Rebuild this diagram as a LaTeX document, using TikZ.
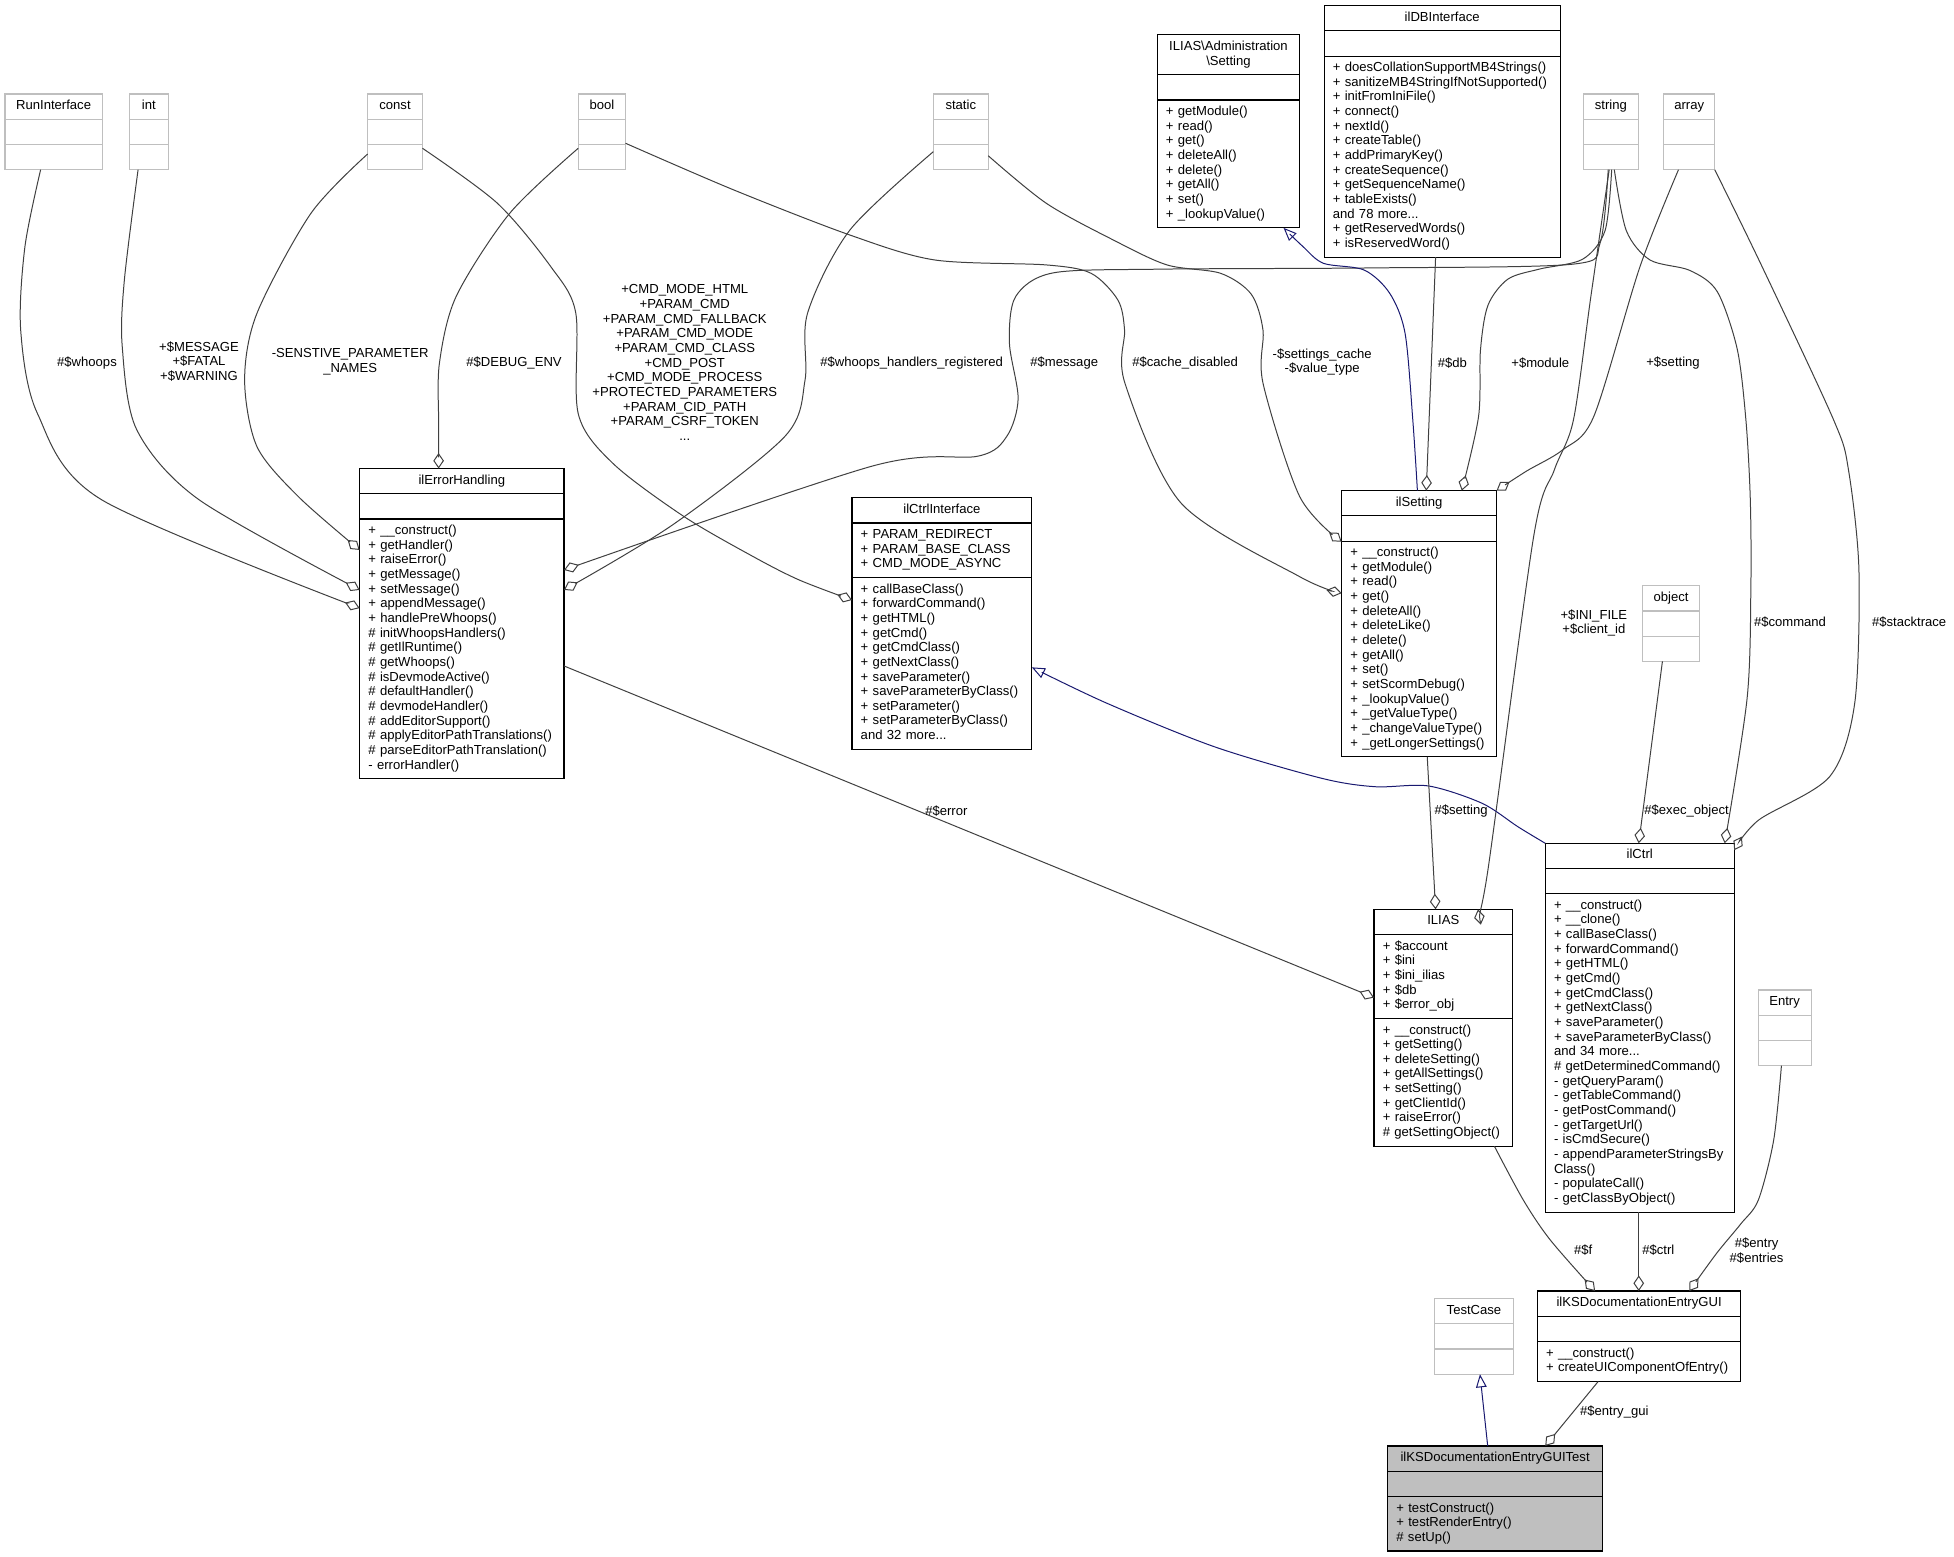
\documentclass[tikz,border=0pt]{standalone}
\usepackage{fontspec}
\setmainfont{Liberation Sans}
\usetikzlibrary{arrows.meta,calc,fit}
\definecolor{grayb}{HTML}{BFBFBF}
\definecolor{edgec}{HTML}{404040}
\definecolor{inhc}{HTML}{191970}
\newcommand\dxfont{\fontsize{10.5}{11.76}\selectfont}
\newcommand\umlclass[8]{%
  \pgfmathsetmacro\clsw{#4-14}%
  \node[#5,tpart,minimum width=#4pt,text width=\clsw pt] (#1-t) at (#2,#3) {\strut #6\strut};%
  \node[#5,mpart,minimum width=#4pt,text width=\clsw pt] (#1-a) at (#1-t.south west) {\strut #7\strut};%
  \node[#5,mpart,minimum width=#4pt,text width=\clsw pt] (#1-m) at (#1-a.south west) {\strut #8\strut};%
  \node[fit=(#1-t)(#1-m),inner sep=0pt,outer sep=0pt] (#1) {};%
}
\begin{document}
\begin{tikzpicture}[x=1pt,y=-1pt,
  cls/.style={draw=black,line width=0.9pt,rectangle,outer sep=0pt,inner xsep=7pt,inner ysep=4.25pt,font=\dxfont,anchor=north west},
  gcls/.style={cls,draw=grayb},
  fcls/.style={cls,fill=grayb},
  tpart/.style={align=center},
  mpart/.style={align=left},
  lbl/.style={font=\dxfont,align=center,inner sep=0pt,text=black},
  agg/.style={draw=edgec,line width=0.8pt,-{Diamond[open,length=12.5pt,width=8.5pt]}},
  inh/.style={draw=inhc,line width=0.8pt,-{Triangle[open,length=10.5pt,width=8.5pt]}}]
\fill[white] (0,0) rectangle (1568,1249);
\useasboundingbox (0,0) rectangle (1568,1249);

% ---------- classes ----------
\umlclass{run}{4}{75.4}{78}{gcls}{RunInterface}{}{}
\umlclass{int}{103.8}{75.4}{31.2}{gcls}{int}{}{}
\umlclass{const}{295}{75.4}{44}{gcls}{const}{}{}
\umlclass{bool}{464}{75.4}{38}{gcls}{bool}{}{}
\umlclass{static}{749}{75.4}{44}{gcls}{static}{}{}
\umlclass{string}{1270.8}{75.4}{43.8}{gcls}{string}{}{}
\umlclass{array}{1335}{75.4}{41}{gcls}{array}{}{}
\umlclass{admin}{928.6}{28}{114.4}{cls}{ILIAS\textbackslash Administration\\\textbackslash Setting}{}{+ getModule()\\+ read()\\+ get()\\+ deleteAll()\\+ delete()\\+ getAll()\\+ set()\\+ \_lookupValue()}
\umlclass{db}{1062.5}{4.5}{189.5}{cls}{ilDBInterface}{}{+ doesCollationSupportMB4Strings()\\+ sanitizeMB4StringIfNotSupported()\\+ initFromIniFile()\\+ connect()\\+ nextId()\\+ createTable()\\+ addPrimaryKey()\\+ createSequence()\\+ getSequenceName()\\+ tableExists()\\and 78 more...\\+ getReservedWords()\\+ isReservedWord()}
\umlclass{errh}{288.6}{376}{164}{cls}{ilErrorHandling}{}{+ \_\_construct()\\+ getHandler()\\+ raiseError()\\+ getMessage()\\+ setMessage()\\+ appendMessage()\\+ handlePreWhoops()\\\# initWhoopsHandlers()\\\# getIlRuntime()\\\# getWhoops()\\\# isDevmodeActive()\\\# defaultHandler()\\\# devmodeHandler()\\\# addEditorSupport()\\\# applyEditorPathTranslations()\\\# parseEditorPathTranslation()\\- errorHandler()}
\umlclass{ctrli}{683.7}{399.4}{144.3}{cls}{ilCtrlInterface}{+ PARAM\_REDIRECT\\+ PARAM\_BASE\_CLASS\\+ CMD\_MODE\_ASYNC}{+ callBaseClass()\\+ forwardCommand()\\+ getHTML()\\+ getCmd()\\+ getCmdClass()\\+ getNextClass()\\+ saveParameter()\\+ saveParameterByClass()\\+ setParameter()\\+ setParameterByClass()\\and 32 more...}
\umlclass{sett}{1076.6}{393.7}{124.3}{cls}{ilSetting}{}{+ \_\_construct()\\+ getModule()\\+ read()\\+ get()\\+ deleteAll()\\+ deleteLike()\\+ delete()\\+ getAll()\\+ set()\\+ setScormDebug()\\+ \_lookupValue()\\+ \_getValueType()\\+ \_changeValueType()\\+ \_getLongerSettings()}
\umlclass{object}{1318}{470}{46}{gcls}{object}{}{}
\umlclass{ctrl}{1240}{676.7}{151.6}{cls}{ilCtrl}{}{+ \_\_construct()\\+ \_\_clone()\\+ callBaseClass()\\+ forwardCommand()\\+ getHTML()\\+ getCmd()\\+ getCmdClass()\\+ getNextClass()\\+ saveParameter()\\+ saveParameterByClass()\\and 34 more...\\\# getDeterminedCommand()\\- getQueryParam()\\- getTableCommand()\\- getPostCommand()\\- getTargetUrl()\\- isCmdSecure()\\- appendParameterStringsBy\\Class()\\- populateCall()\\- getClassByObject()}
\umlclass{ilias}{1102.6}{729.7}{111.1}{cls}{ILIAS}{+ \$account\\+ \$ini\\+ \$ini\_ilias\\+ \$db\\+ \$error\_obj}{+ \_\_construct()\\+ getSetting()\\+ deleteSetting()\\+ getAllSettings()\\+ setSetting()\\+ getClientId()\\+ raiseError()\\\# getSettingObject()}
\umlclass{entry}{1410.8}{794.4}{42.5}{gcls}{Entry}{}{}
\umlclass{testcase}{1151.2}{1042}{63.2}{gcls}{TestCase}{}{}
\umlclass{gui}{1233.6}{1036}{163.4}{cls}{ilKSDocumentationEntryGUI}{}{+ \_\_construct()\\+ createUIComponentOfEntry()}
\umlclass{test}{1113.5}{1160.3}{172.5}{fcls}{ilKSDocumentationEntryGUITest}{}{+ testConstruct()\\+ testRenderEntry()\\\# setUp()}

% ---------- connector end points ----------
\coordinate (s1) at ($(run.south west)+(28.6,0)$);
\coordinate (e1) at ($(errh.north west)+(0,112)$);
\coordinate (s2) at ($(int.south west)+(7,0)$);
\coordinate (e2) at ($(errh.north west)+(0,97.4)$);
\coordinate (s3) at ($(const.south west)+(0,-12.6)$);
\coordinate (e3) at ($(errh.north west)+(0,65.3)$);
\coordinate (s4) at ($(const.south east)+(0,-17.2)$);
\coordinate (e4) at ($(ctrli.north west)+(0,82.1)$);
\coordinate (s5) at ($(bool.south west)+(0,-17.2)$);
\coordinate (e5) at ($(errh.north west)+(63.4,0)$);
\coordinate (s6) at ($(bool.south east)+(0,-21.2)$);
\coordinate (e6) at ($(sett.north west)+(0,82.3)$);
\coordinate (s7) at ($(static.south west)+(0,-14.5)$);
\coordinate (e7) at ($(errh.north east)+(0,97.4)$);
\coordinate (s8) at ($(static.south east)+(0,-11.2)$);
\coordinate (e8) at ($(sett.north west)+(0,41)$);
\coordinate (s9) at ($(string.south west)+(19.7,0)$);
\coordinate (e9) at ($(errh.north east)+(0,81.4)$);
\coordinate (s10) at ($(string.south west)+(22.5,0)$);
\coordinate (e10) at ($(sett.north west)+(96.4,0)$);
\coordinate (s11) at ($(string.south west)+(20.5,0)$);
\coordinate (e11) at ($(ilias.north west)+(83.4,0)$);
\coordinate (s12) at ($(string.south west)+(24.6,0)$);
\coordinate (e12) at ($(ctrl.north west)+(144,0)$);
\coordinate (s13) at ($(array.south west)+(11.9,0)$);
\coordinate (e13) at (sett.north east);
\coordinate (s14) at (array.south east);
\coordinate (e14) at ($(ctrl.north east)+(0,5.5)$);
\coordinate (s15) at ($(db.south west)+(89.5,0)$);
\coordinate (e15) at ($(sett.north west)+(67.9,0)$);
\coordinate (s16) at ($(sett.north west)+(60.8,0)$);
\coordinate (e16) at ($(admin.south west)+(101.4,0)$);
\coordinate (s17) at ($(errh.north east)+(0,158.4)$);
\coordinate (e17) at ($(ilias.north west)+(0,70.8)$);
\coordinate (s18) at (ctrl.north west);
\coordinate (e18) at ($(ctrli.north east)+(0,136.1)$);
\coordinate (s19) at ($(sett.south west)+(68.7,0)$);
\coordinate (e19) at ($(ilias.north west)+(49.4,0)$);
\coordinate (s20) at ($(object.south west)+(16,0)$);
\coordinate (e20) at ($(ctrl.north west)+(75,0)$);
\coordinate (s21) at ($(ilias.south west)+(96.6,0)$);
\coordinate (e21) at ($(gui.north west)+(46.4,0)$);
\coordinate (s22) at ($(ctrl.south west)+(75,0)$);
\coordinate (e22) at ($(gui.north west)+(81.4,0)$);
\coordinate (s23) at ($(entry.south west)+(18.7,0)$);
\coordinate (e23) at ($(gui.north west)+(122,0)$);
\coordinate (s24) at ($(test.north west)+(80.3,0)$);
\coordinate (e24) at ($(testcase.south west)+(36.4,0)$);
\coordinate (s25) at ($(gui.south west)+(48.9,0)$);
\coordinate (e25) at ($(test.north west)+(126.5,0)$);

% ---------- connectors ----------
\draw[agg] plot[smooth] coordinates {(s1) (20,198) (16.6,264.8) (30,331.7) (81.5,401) (e1)};
\draw[agg] plot[smooth] coordinates {(s2) (99.8,224.7) (98.1,278.2) (109.8,345) (159.7,401) (e2)};
\draw[agg] plot[smooth] coordinates {(s3) (249.5,171.2) (206.2,251.4) (196.3,305) (206.2,358.4) (239.5,398.6) (e3)};
\draw[agg] plot[smooth] coordinates {(s4) (399,163) (442,214) (462,251) (464,332) (492,372) (549,414.6) (604.5,446.7) (641.3,465.4) (e4)};
\draw[agg] plot[smooth] coordinates {(s5) (409,171.2) (366,238) (352.6,291.5) (352,340) (e5)};
\draw[agg] plot[smooth] coordinates {(s6) (589,152.5) (682,188.6) (750,208.6) (839.7,212.6) (875.5,219.3) (897,240.7) (902.4,264.8) (902.7,307.5) (948,404) (1043,462.8) (e6)};
\draw[agg] plot[smooth] coordinates {(s7) (682,184.6) (648,251.4) (646,305) (630,350) (540,421) (e7)};
\draw[agg] plot[smooth] coordinates {(s8) (839.7,163.2) (893.4,192.6) (936.5,212.6) (979.4,219.3) (1004,236) (1013.5,265) (1013.5,307.5) (1043,398.6) (e8)};
\draw[agg] plot[smooth] coordinates {(s9) (1284,195) (1262,212) (1100,215) (930,216) (845,219) (815,238) (810,275) (817,320) (808,350) (785,366) (700,374) (e9)};
\draw[agg] plot[smooth] coordinates {(s10) (1288,185) (1270,208) (1235,216) (1210,224) (1194,245) (1188,281) (1186.5,334) (e10)};
\draw[agg] plot[smooth] coordinates {(s11) (1276.3,240) (1262.6,337) (1247.3,377) (1230.6,431) (1194,698) (e11)};
\draw[agg] plot[smooth] coordinates {(s12) (1305,185) (1324,208.6) (1356,217) (1378,234) (1394,280) (1401,337) (1404.5,400) (1405,470) (1402,560) (e12)};
\draw[agg] plot[smooth] coordinates {(s13) (1316,214) (1279,334) (1254,361) (1225,378) (e13)};
\draw[agg] plot[smooth] coordinates {(s14) (1414,214) (1471.4,337) (1483.3,377) (1491.7,457.4) (1488.3,564.4) (1468.2,623.2) (1411.3,658) (e14)};
\draw[agg] (s15) -- (e15);
\draw[inh] plot[smooth] coordinates {(s16) (1133.7,337) (1127.5,267.5) (1115.2,235.4) (1094.7,216.7) (1062,211.3) (1045.6,197.9) (e16)};
\draw[agg] (s17) -- (e17);
\draw[inh] plot[smooth] coordinates {(s18) (1218,663.4) (1189.3,644.6) (1146.3,630.7) (1103.4,631.3) (1060.4,624.5) (974.4,599.2) (888.4,564.4) (e18)};
\draw[agg] (s19) -- (e19);
\draw[agg] (s20) -- (e20);
\draw[agg] plot[smooth] coordinates {(s21) (1222.4,963) (1244,995) (e21)};
\draw[agg] (s22) -- (e22);
\draw[agg] plot[smooth] coordinates {(s23) (1423.3,914.8) (1411,962.9) (1397,982) (1377.5,1005.7) (e23)};
\draw[inh] (s24) -- (e24);
\draw[agg] (s25) -- (e25);

% ---------- labels ----------
\node[lbl] (l1) at (69.8,291) {\#\$whoops};
\node[lbl] (l2) at (159.7,290) {+\$MESSAGE\\+\$FATAL\\+\$WARNING};
\node[lbl] (l3) at (281,290.2) {-SENSTIVE\_PARAMETER\\\_NAMES};
\node[lbl] (l4) at (412.5,291) {\#\$DEBUG\_ENV};
\node[lbl] (l5) at (549.5,291) {+CMD\_MODE\_HTML\\+PARAM\_CMD\\+PARAM\_CMD\_FALLBACK\\+PARAM\_CMD\_MODE\\+PARAM\_CMD\_CLASS\\+CMD\_POST\\+CMD\_MODE\_PROCESS\\+PROTECTED\_PARAMETERS\\+PARAM\_CID\_PATH\\+PARAM\_CSRF\_TOKEN\\...};
\node[lbl] (l6) at (731.5,291) {\#\$whoops\_handlers\_registered};
\node[lbl] (l7) at (854,291) {\#\$message};
\node[lbl] (l8) at (951,291) {\#\$cache\_disabled};
\node[lbl] (l9) at (1061,290.6) {-\$settings\_cache\\-\$value\_type};
\node[lbl] (l10) at (1165.5,291) {\#\$db};
\node[lbl] (l11) at (1236,291) {+\$module};
\node[lbl] (l12) at (1342.5,291) {+\$setting};
\node[lbl] (l13) at (1279,500) {+\$INI\_FILE\\+\$client\_id};
\node[lbl] (l14) at (1436.4,499.4) {\#\$command};
\node[lbl] (l15) at (1532,499.4) {\#\$stacktrace};
\node[lbl] (l16) at (759.4,650.5) {\#\$error};
\node[lbl] (l17) at (1172.5,650.5) {\#\$setting};
\node[lbl] (l18) at (1353.4,650.5) {\#\$exec\_object};
\node[lbl] (l19) at (1270.5,1003) {\#\$f};
\node[lbl] (l20) at (1330.7,1003) {\#\$ctrl};
\node[lbl] (l21) at (1409.6,1003.6) {\#\$entry\\\#\$entries};
\node[lbl] (l22) at (1295.4,1133.3) {\#\$entry\_gui};
\end{tikzpicture}
\end{document}
